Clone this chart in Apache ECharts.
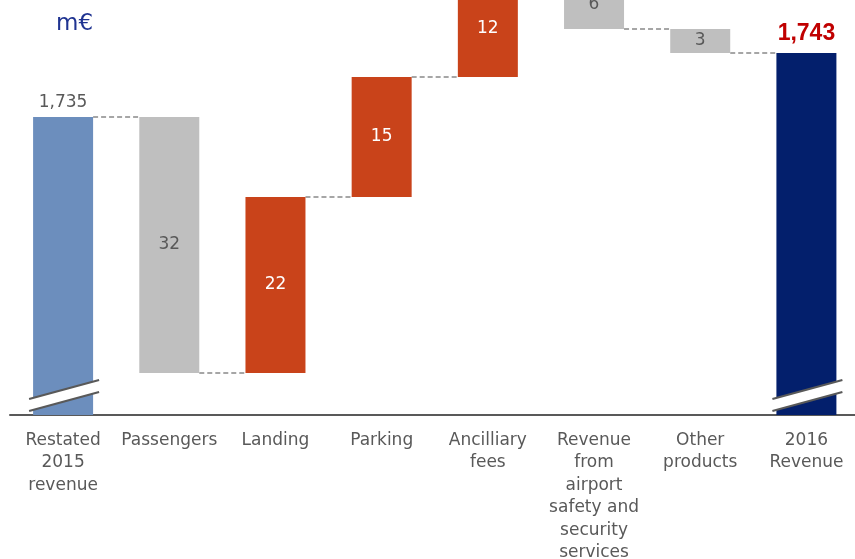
<!DOCTYPE html>
<html>
<head>
<meta charset="utf-8">
<script src="https://cdn.jsdelivr.net/npm/echarts@6/dist/echarts.min.js"></script>
<style>
  html, body { margin: 0; padding: 0; background: #fff; }
  #chart { width: 855px; height: 559px; }
</style>
</head>
<body>
<div id="chart"></div>
<script>
// Revenue bridge, restated 2015 to 2016 (m€)
const categories = [
  'Restated\n2015\nrevenue',
  'Passengers',
  'Landing',
  'Parking',
  'Ancilliary\nfees',
  'Revenue\nfrom\nairport\nsafety and\nsecurity\nservices',
  'Other\nproducts',
  '2016\nRevenue'
];
const startValue = 1735;
const deltas = [-32, 22, 15, 12, -6, -3];
const endValue = 1743;

const COLOR_START = '#6C8EBD';
const COLOR_END = '#031F6C';
const COLOR_UP = '#C9431A';
const COLOR_DOWN = '#BFBFBF';
const Y_MIN = 1697.75;
const Y_MAX = 1756;
const BAR_W = 60;

// invisible base + visible step for each column
const baseData = [0];
const stepData = [];
const levels = [startValue];
stepData.push({
  value: startValue,
  itemStyle: { color: COLOR_START },
  label: { show: true, position: 'top', distance: 6, color: '#595959', fontSize: 17,
           formatter: () => startValue.toLocaleString('en-US') }
});
let running = startValue;
deltas.forEach(d => {
  const up = d > 0;
  baseData.push(up ? running : running + d);
  stepData.push({
    value: Math.abs(d),
    itemStyle: { color: up ? COLOR_UP : COLOR_DOWN },
    label: { show: true, position: 'inside', color: up ? '#ffffff' : '#595959', fontSize: 17,
             formatter: () => String(Math.abs(d)) }
  });
  running += d;
  levels.push(running);
});
baseData.push(0);
stepData.push({
  value: endValue,
  itemStyle: { color: COLOR_END },
  label: { show: true, position: 'top', distance: 8, color: '#C00000', fontSize: 23,
           fontWeight: 'bold', fontFamily: 'Liberation Sans',
           formatter: () => endValue.toLocaleString('en-US') }
});

// dashed connectors between consecutive columns
const connectorData = levels.slice(0, categories.length - 1).map((v, i) => [i, v]);
// axis-break marks on the two total columns
const breakData = [[0, startValue], [categories.length - 1, endValue]];

const chart = echarts.init(document.getElementById('chart'), null, { renderer: 'canvas' });
chart.setOption({
  animation: false,
  backgroundColor: '#ffffff',
  textStyle: { fontFamily: 'DejaVu Sans' },
  grid: { left: 10, right: -4.5, top: -51, bottom: 144, containLabel: false, outerBoundsMode: 'none' },
  graphic: [{
    type: 'text', left: 56, top: 13,
    style: { text: 'm€', fill: '#1F3391', fontSize: 23, fontFamily: 'DejaVu Sans' }
  }],
  xAxis: {
    type: 'category',
    data: categories,
    axisLine: { lineStyle: { color: '#595959', width: 2 } },
    axisTick: { show: false },
    axisLabel: { interval: 0, color: '#595959', fontSize: 17, lineHeight: 22.5, margin: 14,
                 fontFamily: 'DejaVu Sans' }
  },
  yAxis: {
    type: 'value', min: Y_MIN, max: Y_MAX,
    show: false, splitLine: { show: false }
  },
  series: [
    {
      type: 'bar', stack: 'wf', barWidth: BAR_W,
      itemStyle: { color: 'transparent' },
      data: baseData, silent: true
    },
    {
      type: 'bar', stack: 'wf', barWidth: BAR_W,
      data: stepData
    },
    {
      type: 'custom', z: 1,
      data: connectorData,
      renderItem: (params, api) => {
        const i = api.value(0), v = api.value(1);
        const p1 = api.coord([i, v]);
        const p2 = api.coord([i + 1, v]);
        return {
          type: 'line',
          shape: { x1: p1[0] + BAR_W / 2, y1: p1[1], x2: p2[0] - BAR_W / 2, y2: p2[1] },
          style: { stroke: '#A6A6A6', lineWidth: 2, lineDash: [5, 3] }
        };
      }
    },
    {
      type: 'custom', z: 5,
      data: breakData,
      renderItem: (params, api) => {
        const i = api.value(0);
        const c = api.coord([i, Y_MIN]);
        const cx = c[0] + 1, yc = c[1] - 19.5;
        const hw = 35, dy = 9.5, gap = 6;
        return {
          type: 'group',
          children: [
            { type: 'polygon',
              shape: { points: [[cx - hw, yc - gap + dy], [cx + hw, yc - gap - dy],
                                [cx + hw, yc + gap - dy], [cx - hw, yc + gap + dy]] },
              style: { fill: '#ffffff' } },
            { type: 'line',
              shape: { x1: cx - hw, y1: yc - gap + dy, x2: cx + hw, y2: yc - gap - dy },
              style: { stroke: '#595959', lineWidth: 2.2 } },
            { type: 'line',
              shape: { x1: cx - hw, y1: yc + gap + dy, x2: cx + hw, y2: yc + gap - dy },
              style: { stroke: '#595959', lineWidth: 2.2 } }
          ]
        };
      }
    }
  ]
});
</script>
</body>
</html>
